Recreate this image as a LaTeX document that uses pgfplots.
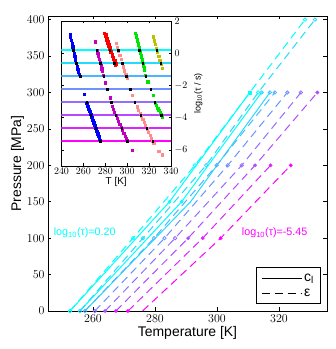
\documentclass[border=0pt]{standalone}
\usepackage{pgfplots}
\pgfplotsset{compat=1.18}
\usepackage{fontspec}
\setmainfont{Liberation Sans}
\definecolor{c0}{rgb}{0,1,1}
\definecolor{c1}{rgb}{0.143,0.857,1}
\definecolor{c2}{rgb}{0.286,0.714,1}
\definecolor{c3}{rgb}{0.429,0.571,1}
\definecolor{c4}{rgb}{0.571,0.429,1}
\definecolor{c5}{rgb}{0.714,0.286,1}
\definecolor{c6}{rgb}{0.857,0.143,1}
\definecolor{c7}{rgb}{1,0,1}
\definecolor{dpur}{rgb}{0.75,0,0.75}
\definecolor{salm}{rgb}{1,0.55,0.55}
\definecolor{grn}{rgb}{0,0.9,0}
\definecolor{oliv}{rgb}{0.75,0.75,0}
\begin{document}
\begin{tikzpicture}
\pgfplotsset{
  dl/.style={dash pattern=on 8bp off 5bp, line width=1bp},
  sl/.style={solid, line width=1bp},
  oc/.style={only marks, mark=o, mark size=1.7bp, mark options={solid, line width=0.8bp}},
  fc/.style={only marks, mark=*, mark size=1.7bp, mark options={solid}},
}
\begin{axis}[
  at={(0,0)}, anchor=south west,
  scale only axis, width=279bp, height=295bp,
  xmin=245.5, xmax=335.5, ymin=0, ymax=405,
  xtick={260,280,300,320}, ytick={0,50,...,400},
  tick align=inside, major tick length=3.5bp,
  axis line style={line width=0.9bp},
  tick style={line width=0.6bp, black},
  ticklabel style={font=\fontsize{12}{12}\selectfont},
  label style={font=\fontsize{14}{14}\selectfont},
  xlabel={Temperature [K]}, ylabel={Pressure [MPa]},
  xlabel style={yshift=3bp}, ylabel style={yshift=-4bp},
  clip=true,
  legend style={at={(0.9774,0.0237)}, anchor=south east, draw=black, line width=0.9bp,
    font=\fontsize{14}{14}\selectfont, row sep=2bp, inner xsep=5bp, inner ysep=4bp},
  legend cell align=left,
  legend image code/.code={\draw[#1] (0bp,0bp) -- (40bp,0bp);},
]
\addlegendimage{sl, black}
\addlegendentry{c\raisebox{-0.35ex}{\fontsize{10}{10}\selectfont l}}
\addlegendimage{dl, black}
\addlegendentry{ε}
% solid c_l lines
\addplot[sl, c0] coordinates {(252.6,0) (284.7,150) (310.6,300)};
\addplot[sl, c0] coordinates {(255.8,0) (288.6,150) (314.4,300)};
\addplot[sl, c1] coordinates {(257.4,0) (291.5,150) (317.1,300)};
% dashed eps lines
\addplot[dl, c0] coordinates {(252.6,0) (272.9,100) (292.9,200) (310.6,300) (328.4,400)};
\addplot[dl, c1] coordinates {(255.8,0) (276.1,100) (296.5,200) (313.3,300) (331.6,400)};
\addplot[dl, c2] coordinates {(257.4,0) (279.7,100) (299.9,200) (318.7,300)};
\addplot[dl, c3] coordinates {(260.6,0) (283.1,100) (303.5,200) (322.7,300)};
\addplot[dl, c4] coordinates {(263.9,0) (286.5,100) (308.0,200) (327.1,300)};
\addplot[dl, c5] coordinates {(267.4,0) (290.7,100) (312.3,200) (332.4,300)};
\addplot[dl, c6] coordinates {(271.3,0) (295.4,100) (317.3,200)};
\addplot[dl, c7] coordinates {(276.0,0) (301.2,100) (323.8,200)};
% data circles
\addplot[oc, c0] coordinates {(252.6,0) (272.9,100) (292.9,200) (313.3,300) (328.4,400)};
\addplot[oc, c1] coordinates {(255.8,0) (276.1,100) (296.5,200) (314.4,300) (331.6,400)};
\addplot[oc, c2] coordinates {(257.4,0) (279.7,100) (299.9,200) (317.1,300) (318.7,300)};
\addplot[oc, c3] coordinates {(283.1,100) (303.5,200) (322.7,300)};
\addplot[oc, c4] coordinates {(260.6,0) (286.5,100) (308.0,200) (327.1,300)};
\addplot[fc, c5] coordinates {(263.9,0) (290.7,100) (312.3,200) (332.4,300)};
\addplot[fc, c6] coordinates {(267.4,0) (295.4,100) (317.3,200)};
\addplot[fc, c7] coordinates {(271.3,0) (301.2,100) (323.8,200)};
\addplot[fc, c0] coordinates {(284.7,150) (288.6,150)};
\addplot[only marks, mark=square*, mark size=1.5bp, c0] coordinates {(310.6,300)};
\node[c0, font=\fontsize{10.8}{10.8}\selectfont, anchor=west, inner sep=0pt] at (axis cs:247.3,107) {log\textsubscript{10}(τ)=0.20};
\node[c7, font=\fontsize{10.8}{10.8}\selectfont, anchor=west, inner sep=0pt] at (axis cs:308.0,107) {log\textsubscript{10}(τ)=\mbox{-}5.45};
\end{axis}
% inset
\begin{axis}[
  at={(13.5bp,145bp)}, anchor=south west,
  scale only axis, width=109.5bp, height=145bp,
  xmin=240, xmax=340, ymin=-7, ymax=2,
  xtick={240,260,...,340}, ytick={-6,-4,...,2},
  yticklabel pos=right,
  tick align=inside, major tick length=2.5bp,
  axis line style={line width=0.9bp},
  tick style={line width=0.6bp, black},
  ticklabel style={font=\fontsize{10}{10}\selectfont},
  label style={font=\fontsize{10}{10}\selectfont},
  xlabel={T [K]}, ylabel={log\textsubscript{10}(τ / s)},
  xlabel style={yshift=4bp},
  ylabel style={font=\fontsize{9}{9}\selectfont},
  axis background/.style={fill=white},
  x tick label style={yshift=1bp},
  clip=true,
]
\pgfplotsset{dm/.style={only marks, mark=square*, mark size=1.1bp}}
\addplot[c0, line width=1.1bp] coordinates {(240,0.20) (340,0.20)};
\addplot[c1, line width=1.1bp] coordinates {(240,-0.607) (340,-0.607)};
\addplot[c2, line width=1.1bp] coordinates {(240,-1.414) (340,-1.414)};
\addplot[c3, line width=1.1bp] coordinates {(240,-2.221) (340,-2.221)};
\addplot[c4, line width=1.1bp] coordinates {(240,-3.029) (340,-3.029)};
\addplot[c5, line width=1.1bp] coordinates {(240,-3.836) (340,-3.836)};
\addplot[c6, line width=1.1bp] coordinates {(240,-4.643) (340,-4.643)};
\addplot[c7, line width=1.1bp] coordinates {(240,-5.45) (340,-5.45)};
% blue
\addplot[dm, blue] coordinates {(247.8,1.19) (248.3,1.0) (248.9,0.8) (249.6,0.6) (250.2,0.4) (250.8,0.2) (251.5,0.0) (252.1,-0.2) (252.8,-0.4) (253.4,-0.6) (254.1,-0.8) (254.8,-1.0) (255.6,-1.2) (257.0,-1.42) (256.2,-1.3) (254.5,-0.9)
 (260.6,-2.53)
 (263.1,-3.11) (264,-3.28) (264.9,-3.45) (265.8,-3.62) (266.7,-3.79) (267.6,-3.97) (268.5,-4.14) (269.4,-4.31) (270.3,-4.48) (271.2,-4.65) (272.1,-4.82) (273,-4.99) (273.9,-5.16) (274.6,-5.30) (275.3,-5.43)};
% purple
\addplot[dm, dpur] coordinates {(270.7,0.71) (272.3,0.20) (273,0.02) (273.8,-0.19) (274.5,-0.37) (275.3,-0.57) (276,-0.75) (276.8,-0.96) (277.5,-1.14) (278.3,-1.35)
 (279.9,-1.83) (284.5,-2.76)
 (286,-3.28) (287.2,-3.47) (288.4,-3.65) (289.6,-3.84) (290.8,-4.03) (292,-4.22) (293.2,-4.40) (294.4,-4.59) (295.6,-4.78) (296.8,-4.96) (298,-5.15) (299,-5.31) (299.8,-5.43)
 (304.4,-6.01)};
% red
\addplot[dm, red] coordinates {(279,1.24) (280,1.04) (281,0.84) (282,0.64) (283,0.44) (284,0.24) (285,0.05) (286,-0.15) (287,-0.35) (288,-0.55) (289,-0.75)
 (280.5,1.15) (281.5,0.95) (282.5,0.75) (283.5,0.55) (284.5,0.35) (285.5,0.15) (286.5,-0.05) (287.5,-0.25) (288.5,-0.45) (289.5,-0.65)};
% salmon
\addplot[dm, salm] coordinates {(289.9,0.61) (291,0.37) (292.1,0.13) (293.2,-0.11) (294.3,-0.36) (295.4,-0.60) (296.5,-0.84) (297.6,-1.08) (298.7,-1.32) (299.8,-1.56)
 (304.4,-2.6)
 (309,-3.32) (310.3,-3.52) (311.6,-3.71) (312.9,-3.91) (314.2,-4.10) (315.5,-4.30) (316.8,-4.49) (318.1,-4.69) (319.4,-4.88) (320.7,-5.08) (322,-5.27) (323.1,-5.44) (324.2,-5.6)
 (328.8,-6.1) (331.9,-6.3)};
% green
\addplot[dm, grn] coordinates {(307.4,1.24) (308.3,0.99) (309.2,0.73) (310.1,0.48) (311,0.23) (311.9,-0.02) (312.8,-0.27) (313.7,-0.52) (314.6,-0.78) (315.5,-1.03) (316.6,-1.35)
 (308.4,1.1) (309.3,0.85) (310.2,0.6) (311.1,0.35) (312,0.1) (312.9,-0.15) (313.8,-0.4) (314.7,-0.65) (315.6,-0.9)
 (318.7,-1.77) (323.7,-2.6)
 (325.8,-3.11) (326.8,-3.25) (327.8,-3.39) (328.8,-3.52) (329.8,-3.66) (330.8,-3.79) (331.9,-3.94)};
% olive
\addplot[dm, oliv] coordinates {(323.7,1.02) (324.7,0.78) (325.7,0.54) (326.7,0.30) (327.7,0.06) (328.7,-0.18) (329.7,-0.42) (330.8,-0.68) (331.9,-0.94)};
% black interpolation points
\addplot[only marks, mark=square*, mark size=0.7bp, black] coordinates {
 (250.8,0.2) (253.4,-0.607) (257,-1.414) (262.8,-3.029) (266.9,-3.836) (271.2,-4.643) (275.4,-5.45)
 (272.3,0.2) (275.4,-0.607) (278.5,-1.414) (281.8,-2.221) (285.3,-3.029) (289.6,-3.836) (294.8,-4.643) (299.9,-5.45)
 (284.2,0.2) (288.3,-0.607)
 (291.6,0.2) (295.4,-0.607) (299.1,-1.414) (302.7,-2.221) (307.1,-3.029) (312.4,-3.836) (317.8,-4.643) (323.2,-5.45)
 (311.1,0.2) (314,-0.607) (316.9,-1.414) (321.4,-2.221) (325.3,-3.029) (331.1,-3.836)
 (327.1,0.2) (330.5,-0.607)};
\end{axis}
\pgfresetboundingbox
\path[use as bounding box] (-48bp,-38bp) rectangle (288bp,311bp);
\end{tikzpicture}
\end{document}
